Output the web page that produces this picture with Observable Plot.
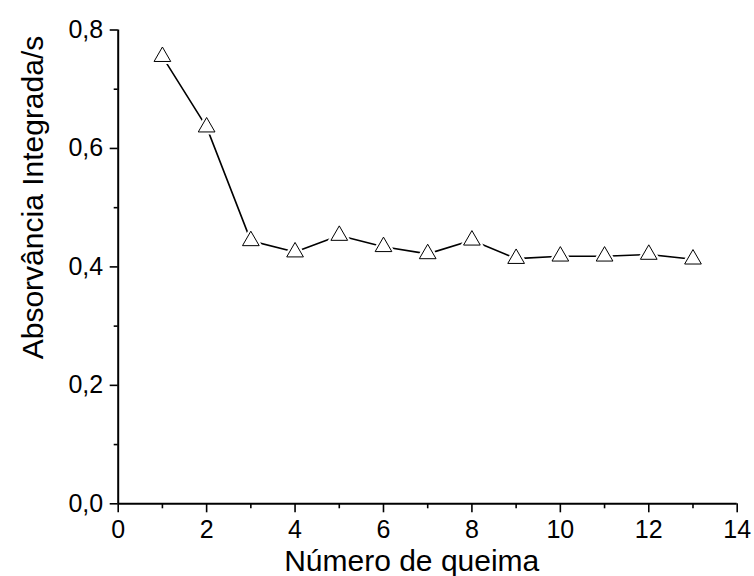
<!DOCTYPE html>
<html>
<head>
<meta charset="utf-8">
<script src="https://cdn.jsdelivr.net/npm/d3@7"></script>
<script src="https://cdn.jsdelivr.net/npm/@observablehq/plot@0.6"></script>
<style>
  html, body { margin: 0; padding: 0; background: #fff; }
</style>
</head>
<body>
<div id="chart"></div>
<script>
const burnNumber = [1, 2, 3, 4, 5, 6, 7, 8, 9, 10, 11, 12, 13];
const absorbance = [0.755, 0.636, 0.444, 0.425, 0.453, 0.434, 0.422, 0.445, 0.414, 0.418, 0.418, 0.421, 0.413];
const xMajorTicks = [0, 2, 4, 6, 8, 10, 12, 14];
const xMinorTicks = [1, 3, 5, 7, 9, 11, 13];
const yMajorTicks = [0, 0.2, 0.4, 0.6, 0.8];
const yMinorTicks = [0.1, 0.3, 0.5, 0.7];
const xTitle = "Número de queima";
const yTitle = "Absorvância Integrada/s";

const data = burnNumber.map((b, i) => ({burn: b, abs: absorbance[i]}));
const fmt = d => d.toFixed(1).replace(".", ",");

const chart = Plot.plot({
  width: 754,
  height: 576,
  marginLeft: 117.7,
  marginRight: 17.3,
  marginTop: 29.5,
  marginBottom: 72.7,
  style: {fontFamily: "'Liberation Sans', Arial, sans-serif", fontSize: "25px", color: "black", background: "white"},
  x: {domain: [0, 14], label: null},
  y: {domain: [0, 0.8], label: null},
  marks: [
    Plot.axisX({ticks: xMajorTicks, tickSize: 9, tickPadding: 7, fontSize: 25, strokeWidth: 1.6, label: null, tickFormat: d => String(d)}),
    Plot.axisX({ticks: xMinorTicks, tickSize: 5, strokeWidth: 1.6, text: null, label: null}),
    Plot.axisY({ticks: yMajorTicks, tickSize: 8, tickPadding: 7, fontSize: 25, strokeWidth: 1.6, label: null, tickFormat: fmt}),
    Plot.axisY({ticks: yMinorTicks, tickSize: 4, strokeWidth: 1.6, text: null, label: null}),
    Plot.ruleX([0], {stroke: "black", strokeWidth: 2}),
    Plot.ruleY([0], {stroke: "black", strokeWidth: 2}),
    Plot.line(data, {x: "burn", y: "abs", stroke: "black", strokeWidth: 1.6}),
    Plot.dot(data, {x: "burn", y: "abs", symbol: "triangle", r: 9.5, fill: "white", stroke: "none"}),
    Plot.dot(data, {x: "burn", y: "abs", symbol: "triangle", r: 6.2, fill: "white", stroke: "black", strokeWidth: 1}),
    Plot.text([xTitle], {frameAnchor: "bottom", text: d => d, fontSize: 30, textAnchor: "middle", lineAnchor: "middle", dx: -16, dy: 57.5, fill: "black"}),
    Plot.text([yTitle], {frameAnchor: "left", text: d => d, fontSize: 30, textAnchor: "middle", lineAnchor: "middle", rotate: -90, dx: -84.6, dy: -69.4, fill: "black"})
  ]
});
document.getElementById("chart").appendChild(chart);
</script>
</body>
</html>
